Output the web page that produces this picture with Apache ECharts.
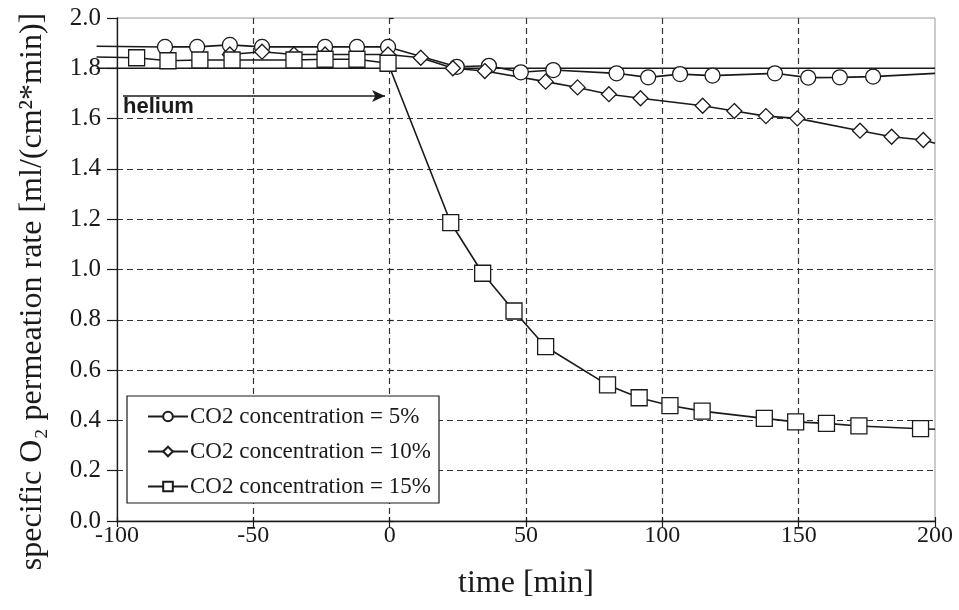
<!DOCTYPE html>
<html>
<head>
<meta charset="utf-8">
<script src="https://cdn.jsdelivr.net/npm/echarts@6/dist/echarts.min.js"></script>
<style>html,body{margin:0;padding:0;background:#fff}#c{width:959px;height:610px}</style>
</head>
<body>
<div id="c"></div>
<script>
// ---- data (time in min, specific O2 permeation rate) ----
const seriesNames = ['CO2 concentration = 5%', 'CO2 concentration = 10%', 'CO2 concentration = 15%'];

const t5 = [-82.4, -70.6, -58.6, -46.8, -23.7, -12.0, -0.6, 24.6, 36.4, 48.1, 60.0, 83.2, 94.8, 106.5, 118.4, 141.3, 153.5, 165.1, 177.3];
const v5 = [1.885, 1.885, 1.893, 1.885, 1.885, 1.885, 1.885, 1.806, 1.810, 1.784, 1.793, 1.780, 1.764, 1.777, 1.771, 1.780, 1.763, 1.764, 1.767];
const t5Lead = [-107.5], v5Lead = [1.888];
const t5Tail = [200], v5Tail = [1.780];

const t10 = [-58.6, -46.8, -35.1, -23.7, -0.6, 11.4, 23.2, 34.9, 57.2, 68.9, 80.4, 92.0, 114.8, 126.4, 138.0, 149.5, 172.5, 184.1, 195.7];
const v10 = [1.855, 1.866, 1.855, 1.855, 1.855, 1.842, 1.800, 1.789, 1.747, 1.724, 1.697, 1.681, 1.651, 1.630, 1.610, 1.601, 1.552, 1.528, 1.515];
const t10Lead = [], v10Lead = [];
const t10Tail = [200], v10Tail = [1.502];

const t15 = [-92.8, -81.3, -69.6, -57.8, -35.1, -23.7, -12.0, -0.6, 22.4, 34.1, 45.6, 57.2, 79.9, 91.5, 102.8, 114.6, 137.4, 148.9, 160.2, 172.1, 194.7];
const v15 = [1.842, 1.830, 1.833, 1.833, 1.833, 1.836, 1.836, 1.820, 1.186, 0.985, 0.835, 0.693, 0.541, 0.490, 0.459, 0.437, 0.408, 0.394, 0.388, 0.378, 0.367];
const t15Lead = [-107.5], v15Lead = [1.845];
const t15Tail = [200], v15Tail = [0.365];

const refLevel = 1.8;           // horizontal reference line
const refSpan = [-107.5, 200];
const heliumArrow = {x: [-97.8, -1.7], y: 1.69, text: 'helium'};

const xTicks = {min: -100, max: 200, step: 50};
const yTicks = {min: 0, max: 2.0, step: 0.2};

// ---- build ----
function build(t, v, tt, tv) {
  const d = [];
  t.forEach((x, i) => d.push({value: [x, v[i]]}));
  tt.forEach((x, i) => d.push({value: [x, tv[i]], symbol: 'none'}));
  return d;
}
// segments drawn outside the plot on the left (lead-in part of the curves) + reference line
const segments = [];
[[t5Lead, v5Lead, t5, v5], [t10Lead, v10Lead, t10, v10], [t15Lead, v15Lead, t15, v15]].forEach(([lt, lv, t, v]) => {
  if (lt.length) segments.push([lt[0], lv[0], t[0], v[0]]);
});
segments.push([refSpan[0], refLevel, refSpan[1], refLevel]);

const serif = '"Liberation Serif", "Times New Roman", "DejaVu Serif", serif';
const ink = '#1a1a1a';
const markerStyle = {color: '#fff', borderColor: ink, borderWidth: 1.3};
const lineStyle = {color: ink, width: 1.6};

function mkSeries(name, symbol, size, data, extra) {
  return Object.assign({
    name: name, type: 'line', data: data, symbol: symbol, symbolSize: size, z: 3,
    showAllSymbol: true, clip: false, animation: false,
    lineStyle: lineStyle, itemStyle: markerStyle, emphasis: {disabled: true}
  }, extra || {});
}

const nY = Math.round((yTicks.max - yTicks.min) / yTicks.step) + 1;
const nX = Math.round((xTicks.max - xTicks.min) / xTicks.step) + 1;
const ySplitColors = Array.from({length: nY}, (_, i) => (i === 0 || i === nY - 1) ? 'rgba(0,0,0,0)' : '#333');
const xSplitColors = Array.from({length: nX}, (_, i) => (i === 0 || i === nX - 1) ? 'rgba(0,0,0,0)' : '#333');

const chart = echarts.init(document.getElementById('c'), null, {renderer: 'canvas'});
chart.setOption({
  animation: false,
  backgroundColor: '#fff',
  grid: {left: 117, right: 24, top: 18, bottom: 89, show: true, borderColor: '#9a9a9a', borderWidth: 1, backgroundColor: 'transparent'},
  xAxis: [{
    type: 'value', min: xTicks.min, max: xTicks.max, interval: xTicks.step,
    name: 'time [min]', nameLocation: 'middle', nameGap: 47,
    nameTextStyle: {fontFamily: serif, fontSize: 32, color: ink},
    axisLine: {show: true, onZero: false, lineStyle: {color: ink, width: 1.3}},
    axisTick: {show: true, inside: false, length: 6, lineStyle: {color: ink, width: 1.2}},
    axisLabel: {fontFamily: serif, fontSize: 24, color: ink, margin: 3},
    splitLine: {show: true, lineStyle: {color: xSplitColors, type: [6, 4], width: 1.2}}
  }, {
    type: 'value', min: xTicks.min, max: xTicks.max, interval: xTicks.step, position: 'bottom',
    axisLine: {show: false}, axisTick: {show: true, inside: true, length: 4, lineStyle: {color: ink, width: 1.2}},
    axisLabel: {show: false}, splitLine: {show: false}
  }],
  yAxis: [{
    type: 'value', min: yTicks.min, max: yTicks.max, interval: yTicks.step,
    name: 'specific O\u2082 permeation rate [ml/(cm\u00b2*min)]', nameLocation: 'middle', nameGap: 68,
    nameTextStyle: {fontFamily: serif, fontSize: 32, color: ink, padding: [0, 44, 0, 0]},
    axisLine: {show: true, onZero: false, lineStyle: {color: ink, width: 1.3}},
    axisTick: {show: true, inside: false, length: 10, lineStyle: {color: ink, width: 1.2}},
    axisLabel: {fontFamily: serif, fontSize: 25, color: ink, margin: 16, formatter: v => v.toFixed(1)},
    splitLine: {show: true, lineStyle: {color: ySplitColors, type: [6, 4], width: 1.2}}
  }, {
    type: 'value', min: yTicks.min, max: yTicks.max, interval: yTicks.step, position: 'left',
    axisLine: {show: false}, axisTick: {show: true, inside: true, length: 4, lineStyle: {color: ink, width: 1.2}},
    axisLabel: {show: false}, splitLine: {show: false}
  }],
  legend: {
    left: 127, top: 396, orient: 'vertical',
    backgroundColor: '#fff', borderColor: ink, borderWidth: 1.2,
    padding: [9, 8, 5, 20], itemGap: 12, itemWidth: 40, itemHeight: 12,
    textStyle: {fontFamily: serif, fontSize: 23, color: ink, padding: [0, 0, 0, -3]},
    data: seriesNames
  },
  series: [
    {
      type: 'custom', name: 'segments', data: segments, clip: false, z: 2, silent: true, animation: false,
      renderItem: function (params, api) {
        const p0 = api.coord([api.value(0), api.value(1)]);
        const p1 = api.coord([api.value(2), api.value(3)]);
        return {type: 'line', shape: {x1: p0[0], y1: p0[1], x2: p1[0], y2: p1[1]},
                style: {stroke: ink, lineWidth: 1.5}};
      }
    },
    mkSeries(seriesNames[0], 'circle', 15, build(t5, v5, t5Tail, v5Tail), {
      markLine: {
        silent: true, animation: false, symbol: 'none',
        lineStyle: {color: ink, type: 'solid', width: 1.6},
        label: {show: false},
        data: [
          [{coord: [heliumArrow.x[0], heliumArrow.y], symbol: 'none',
            label: {show: true, formatter: heliumArrow.text, position: 'insideStartBottom', distance: [0, 0],
              fontFamily: '"Liberation Sans", Arial, sans-serif', fontWeight: 'bold', fontSize: 22, color: ink}},
           {coord: [heliumArrow.x[1], heliumArrow.y], symbol: 'arrow', symbolSize: [9, 13]}]
        ]
      }
    }),
    mkSeries(seriesNames[1], 'diamond', 15, build(t10, v10, t10Tail, v10Tail)),
    mkSeries(seriesNames[2], 'rect', 16, build(t15, v15, t15Tail, v15Tail))
  ]
});
</script>
</body>
</html>
